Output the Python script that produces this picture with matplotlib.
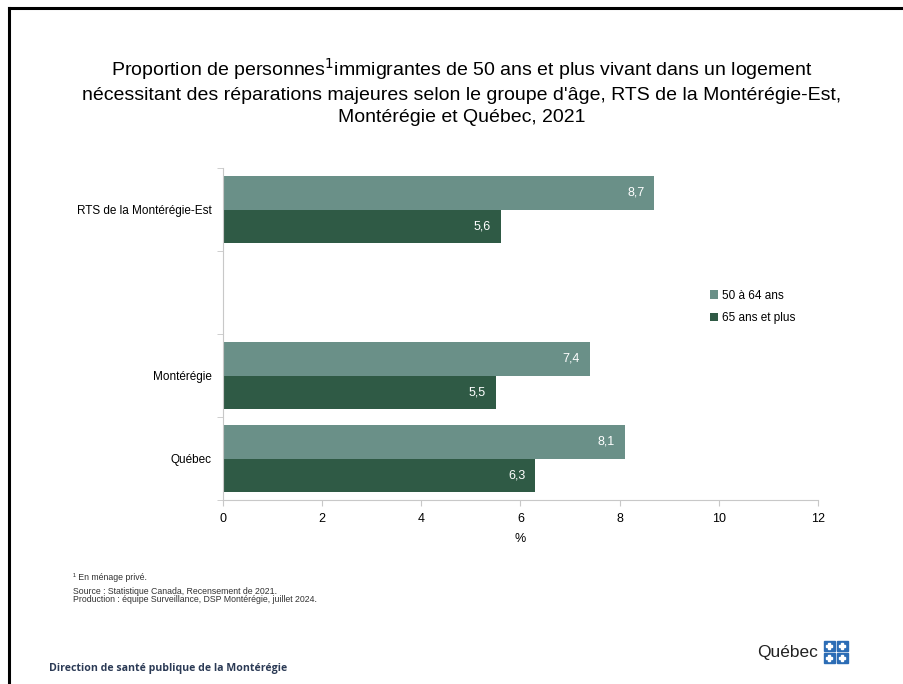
import numpy as np
import matplotlib.pyplot as plt
from matplotlib.patches import Rectangle
from matplotlib.lines import Line2D

categories = ['RTS de la Montérégie-Est', '', 'Montérégie', 'Québec']
age_50_64 = [8.7, np.nan, 7.4, 8.1]
age_65_plus = [5.6, np.nan, 5.5, 6.3]
series_labels = ['50 à 64 ans', '65 ans et plus']
x_ticks = [0, 2, 4, 6, 8, 10, 12]

light = '#6a9088'
dark = '#2f5a45'
plain = ['Liberation Sans', 'DejaVu Sans']

W, H = 904, 684
fig = plt.figure(figsize=(W / 100, H / 100), dpi=100)

# slide frame (top and left edges only)
fig.add_artist(Line2D([9 / W, 1], [1 - 8 / H, 1 - 8 / H], color='black', lw=2.2))
fig.add_artist(Line2D([9 / W, 9 / W], [0, 1 - 8 / H], color='black', lw=2.2))

ax = fig.add_axes([223 / W, 1 - 500 / H, (818 - 223) / W, (500 - 168) / H])

y = np.arange(len(categories))
h = 0.4
ax.barh(y - h / 2, age_50_64, height=h, color=light, label=series_labels[0])
ax.barh(y + h / 2, age_65_plus, height=h, color=dark, label=series_labels[1])

for yi, v1, v2 in zip(y, age_50_64, age_65_plus):
    if np.isnan(v1):
        continue
    ax.text(v1 - 0.2, yi - h / 2, f'{v1:.1f}'.replace('.', ','), color='white',
            ha='right', va='center', fontsize=9, family=plain)
    ax.text(v2 - 0.2, yi + h / 2, f'{v2:.1f}'.replace('.', ','), color='white',
            ha='right', va='center', fontsize=9, family=plain)

ax.set_ylim(len(categories) - 0.5, -0.5)
ax.set_xlim(0, 12)
ax.set_yticks(y)
ax.set_yticklabels(categories, family=plain, fontsize=8.5)
ax.set_yticks(np.arange(-0.5, len(categories)), minor=True)
ax.tick_params(axis='y', which='major', length=0, pad=8)
ax.tick_params(axis='y', which='minor', length=4, color='#c8c8c8')
ax.set_xticks(x_ticks)
ax.set_xticklabels([str(t) for t in x_ticks], family=plain, fontsize=9)
ax.tick_params(axis='x', length=4, color='#c8c8c8', pad=5)
ax.set_xlabel('%', family=plain, fontsize=9, labelpad=6)

for side in ['top', 'right']:
    ax.spines[side].set_visible(False)
for side in ['left', 'bottom']:
    ax.spines[side].set_color('#c8c8c8')

fig.legend(loc='upper left', bbox_to_anchor=(705 / W, 1 - 285 / H), frameon=False,
           prop={'family': plain, 'size': 8.5}, handlelength=0.7, handleheight=0.7,
           handletextpad=0.3, labelspacing=0.9, borderaxespad=0)

title = ("Proportion de personnes$^1$immigrantes de 50 ans et plus vivant dans un logement\n"
         "nécessitant des réparations majeures selon le groupe d'âge, RTS de la Montérégie-Est,\n"
         "Montérégie et Québec, 2021")
fig.text(462 / W, 1 - 91 / H, title, ha='center', va='center', fontsize=14,
         family=plain, linespacing=1.38)

foot_kw = dict(fontsize=6.3, family=plain, color='#333333', va='center')
fig.text(73 / W, 1 - 578 / H, '¹ En ménage privé.', **foot_kw)
fig.text(73 / W, 1 - 591 / H, 'Source : Statistique Canada, Recensement de 2021.', **foot_kw)
fig.text(73 / W, 1 - 600 / H, 'Production : équipe Surveillance, DSP Montérégie, juillet 2024.', **foot_kw)

fig.text(49 / W, 1 - 669 / H, 'Direction de santé publique de la Montérégie', fontsize=7.6,
         family=['Open Sans', 'DejaVu Sans'], weight='bold', color='#2b3a55', va='center')

# Québec signature
fig.text(757 / W, 1 - 653 / H, 'Québec', fontsize=12.5, family=plain,
         color='#222222', va='center')
for cx in (824, 837):
    for cy in (641, 653):
        fig.add_artist(Rectangle((cx / W, 1 - (cy + 10) / H), 11 / W, 10 / H,
                                 color='#2b6cb5', transform=fig.transFigure))
        fig.add_artist(Rectangle(((cx + 4.5) / W, 1 - (cy + 8) / H), 2 / W, 6 / H,
                                 color='white', transform=fig.transFigure))
        fig.add_artist(Rectangle(((cx + 2.5) / W, 1 - (cy + 5.5) / H), 6 / W, 1.5 / H,
                                 color='white', transform=fig.transFigure))

fig.savefig('out.png', dpi=100)
